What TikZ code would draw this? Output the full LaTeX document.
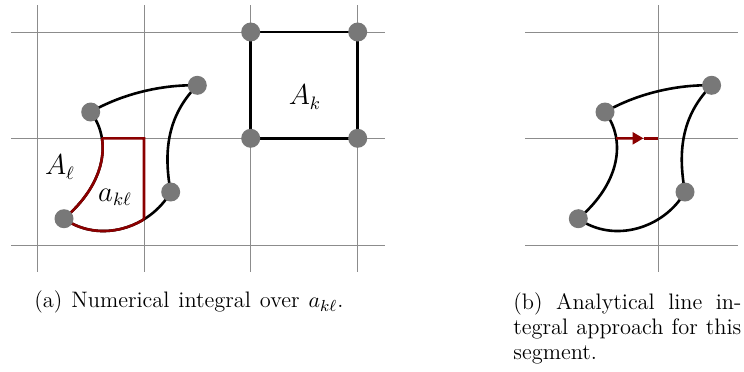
\documentclass[tikz,border=0pt]{standalone}
\usetikzlibrary{intersections,arrows.meta}
\definecolor{dred}{RGB}{139,0,0}
\definecolor{dotgray}{RGB}{120,120,120}
\definecolor{gridgray}{RGB}{140,140,140}
\begin{document}
\begin{tikzpicture}[x=0.5pt,y=-0.5pt,
  gridline/.style={gridgray,line width=0.5pt},
  edge/.style={black,line width=1.3pt},
  redge/.style={dred,line width=1.3pt},
  dot/.style={circle,fill=dotgray,minimum size=9.5pt,inner sep=0pt},
  lbl/.style={font=\fontsize{13.4}{16}\selectfont,inner sep=0pt},
  captext/.style={font=\fontsize{11.2}{12.5}\selectfont,inner sep=0pt}]
\useasboundingbox (0,0) rectangle (744,371);
% grid (a)
\foreach \x in {37.3,144,250.7,357.7} \draw[gridline] (\x,5) -- (\x,272);
\foreach \y in {32,138.3,245.7} \draw[gridline] (11,\y) -- (385,\y);
% grid (b)
\draw[gridline] (658.3,5) -- (658.3,272);
\foreach \y in {32,138.3,245.7} \draw[gridline] (525,\y) -- (738,\y);
% square A_k
\coordinate (k1) at (250.7,32);
\coordinate (k2) at (357.7,32);
\coordinate (k3) at (357.7,138.3);
\coordinate (k4) at (250.7,138.3);
\draw[edge] (k1) -- (k2) -- (k3) -- (k4) -- cycle;
\node[lbl] (Ak) at (305,97) {$A_k$};
% shape (a)
\coordinate (p1) at (90.7,112);
\coordinate (p2) at (197.3,85.3);
\coordinate (p3) at (170.7,192);
\coordinate (p4) at (64,218.7);
\draw[edge] (p1) .. controls (121.9,94) and (161.3,84.5) .. (p2)
  .. controls (168,115) and (163,150) .. (p3)
  .. controls (150,228) and (100,244) .. (p4)
  .. controls (106,183) and (112,140) .. (p1);
\begin{scope}
  \clip (0,138.3) rectangle (144,300);
  \draw[redge] (p3) .. controls (150,228) and (100,244) .. (p4)
    .. controls (106,183) and (112,140) .. (p1);
\end{scope}
\path[name path=lc] (p4) .. controls (106,183) and (112,140) .. (p1);
\path[name path=hl] (0,138.3) -- (144,138.3);
\path[name intersections={of=lc and hl,by=L}];
\path[name path=bc] (p3) .. controls (150,228) and (100,244) .. (p4);
\path[name path=vl] (144,138.3) -- (144,300);
\path[name intersections={of=bc and vl,by=B}];
\coordinate (c) at (144,138.3);
\draw[redge] (L) -- (c) -- (B);
\node[lbl] (Al) at (60,167) {$A_\ell$};
\node[lbl] (akl) at (115,197) {$a_{k\ell}$};
% shape (b)
\begin{scope}[xshift=257.15pt]
\coordinate (q1) at (90.7,112);
\coordinate (q2) at (197.3,85.3);
\coordinate (q3) at (170.7,192);
\coordinate (q4) at (64,218.7);
\draw[edge] (q1) .. controls (121.9,94) and (161.3,84.5) .. (q2)
  .. controls (168,115) and (163,150) .. (q3)
  .. controls (150,228) and (100,244) .. (q4)
  .. controls (106,183) and (112,140) .. (q1);
\path[name path=lcb] (q4) .. controls (106,183) and (112,140) .. (q1);
\path[name path=hlb] (0,138.3) -- (144,138.3);
\path[name intersections={of=lcb and hlb,by=Lb}];
\coordinate (tip) at (129.2,138.3);
\coordinate (cb) at (144,138.3);
\draw[redge,-{Triangle[length=5.5pt,width=6pt]}] (Lb) -- (tip);
\draw[redge] (tip) -- (cb);
\end{scope}
% dots
\foreach \n in {k1,k2,k3,k4,p1,p2,p3,p4,q1,q2,q3,q4} \node[dot] (d\n) at (\n) {};
% captions
\node[captext,anchor=base west] (capa) at (34,307.7)
  {\hbox to 154.5pt{(a) Numerical integral over $a_{k\ell}$.}};
\node[captext,anchor=north west,text width=114pt,align=justify] (capb) at (513,292.2)
  {(b) Analytical line in-\linebreak tegral approach for this\linebreak segment.};
\end{tikzpicture}
\end{document}
